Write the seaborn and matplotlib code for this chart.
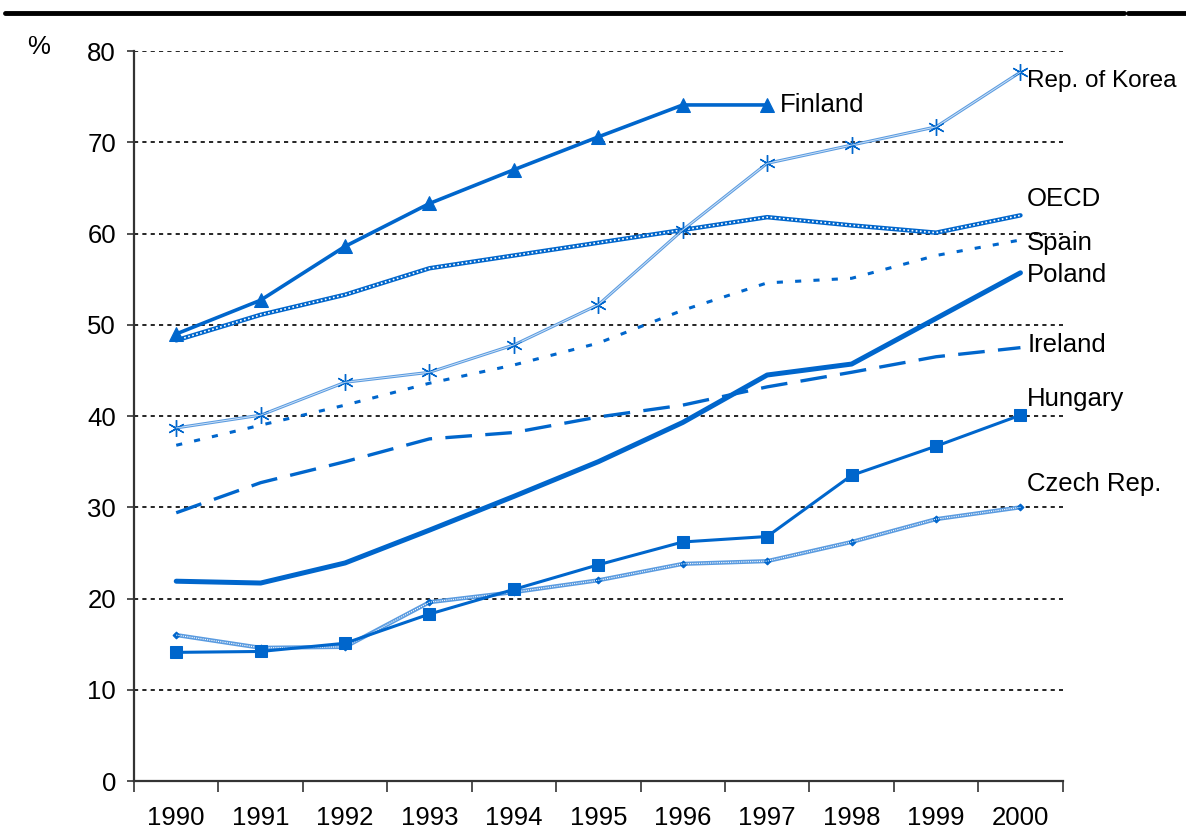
import numpy as np
import pandas as pd
import matplotlib
matplotlib.use("Agg")
import matplotlib.pyplot as plt
import seaborn as sns

# Data (%)
years = ["1990", "1991", "1992", "1993", "1994", "1995", "1996", "1997", "1998", "1999", "2000"]
finland = [49.0, 52.7, 58.6, 63.3, 67.0, 70.6, 74.1, 74.1]
korea = [38.7, 40.1, 43.7, 44.8, 47.8, 52.2, 60.4, 67.7, 69.7, 71.7, 77.7]
oecd = [48.3, 51.1, 53.3, 56.2, 57.6, 59.0, 60.4, 61.8, 60.9, 60.1, 62.0]
spain = [36.8, 39.0, 41.2, 43.6, 45.6, 48.0, 51.6, 54.6, 55.1, 57.6, 59.3]
poland = [21.9, 21.7, 23.9, 27.5, 31.2, 35.0, 39.3, 44.5, 45.7, 50.7, 55.7]
ireland = [29.4, 32.7, 35.0, 37.5, 38.2, 39.9, 41.2, 43.2, 44.8, 46.5, 47.5]
hungary = [14.1, 14.2, 15.1, 18.3, 21.0, 23.7, 26.2, 26.8, 33.5, 36.7, 40.1]
czech = [16.0, 14.6, 14.7, 19.6, 20.7, 22.0, 23.8, 24.1, 26.2, 28.7, 30.0]

sns.set_style("white")
plt.rcParams['font.family'] = ['Liberation Sans', 'DejaVu Sans']
plt.rcParams['text.color'] = "black"
plt.rcParams['xtick.color'] = "black"
plt.rcParams['ytick.color'] = "black"

blue = "#0066CC"
light = "#5A9BE0"

fig = plt.figure(figsize=(11.86, 8.38), dpi=100)
ax = fig.add_axes([0.113, 0.068, 0.783, 0.871])
pos = np.arange(len(years))

# top rule
fig.add_artist(plt.Line2D([0.004, 0.948], [0.985, 0.985], color="black", lw=3.5))
fig.add_artist(plt.Line2D([0.951, 1.0], [0.985, 0.985], color="black", lw=3.5))

# OECD: chain-like line
sns.lineplot(x=pos, y=oecd, ax=ax, color=blue, lw=3.2)
sns.lineplot(x=pos, y=oecd, ax=ax, color="white", lw=1.2, linestyle=(0, (1, 1.5)))
# Korea: light double line with asterisks
sns.lineplot(x=pos, y=korea, ax=ax, color=light, lw=2.2, marker=(6, 2, 0), markersize=12,
             markeredgewidth=1.0, markeredgecolor=blue)
sns.lineplot(x=pos, y=korea, ax=ax, color="white", lw=0.7, alpha=0.7)
# Finland
sns.lineplot(x=pos[:len(finland)], y=finland, ax=ax, color=blue, lw=2.6, marker="^",
             markersize=10, markeredgecolor=blue)
# Spain: short dashes
sns.lineplot(x=pos, y=spain, ax=ax, color=blue, lw=2.2, linestyle=(0, (2, 4)))
# Poland: thick solid
sns.lineplot(x=pos, y=poland, ax=ax, color=blue, lw=3.6)
# Ireland: long dashes
sns.lineplot(x=pos, y=ireland, ax=ax, color=blue, lw=2.4, linestyle=(0, (8, 4)))
# Czech Rep.: light hatched line with small diamonds
sns.lineplot(x=pos, y=czech, ax=ax, color=light, lw=3.0, marker="D", markersize=3.5,
             markeredgecolor=blue, markerfacecolor=blue)
sns.lineplot(x=pos, y=czech, ax=ax, color="white", lw=0.8, linestyle=(0, (1, 1)))
# Hungary
sns.lineplot(x=pos, y=hungary, ax=ax, color=blue, lw=2.2, marker="s", markersize=9,
             markeredgecolor=blue)

ax.set_xlim(-0.5, len(years) - 0.5)
ax.set_ylim(0, 80)
ax.set_yticks(np.arange(0, 81, 10))
ax.set_xticks(pos)
ax.set_xticklabels(years)
ax.set_xticks(np.arange(-0.5, len(years), 1), minor=True)
ax.tick_params(axis="x", which="major", length=0, pad=18, labelsize=18.5)
ax.tick_params(axis="x", which="minor", length=8, width=1.2, color="#333333", bottom=True)
ax.tick_params(axis="y", length=5, width=1.2, color="#333333", labelsize=18.5, left=True, pad=8)

for y in range(10, 81, 10):
    ax.axhline(y, color="black", lw=1.2, linestyle=(0, (2.5, 2.5)), zorder=0)

for side in ["top", "right"]:
    ax.spines[side].set_visible(False)
for side in ["left", "bottom"]:
    ax.spines[side].set_color("#333333")
    ax.spines[side].set_linewidth(1.6)

ax.set_xlabel("")
ax.set_ylabel("")
fig.text(0.023, 0.935, "%", fontsize=18.5)

labels = [("Finland", 7.15, 74.1, 18.5), ("Rep. of Korea", 10.08, 76.7, 17.5),
          ("OECD", 10.08, 63.8, 18.5), ("Spain", 10.08, 59.0, 18.5), ("Poland", 10.08, 55.5, 18.5),
          ("Ireland", 10.08, 47.8, 18.5), ("Hungary", 10.08, 41.9, 18.5), ("Czech Rep.", 10.08, 32.6, 18.5)]
for name, x, y, fs in labels:
    ax.text(x, y, name, fontsize=fs, va="center", ha="left", clip_on=False)

fig.savefig("out.png", dpi=100, facecolor="white")
